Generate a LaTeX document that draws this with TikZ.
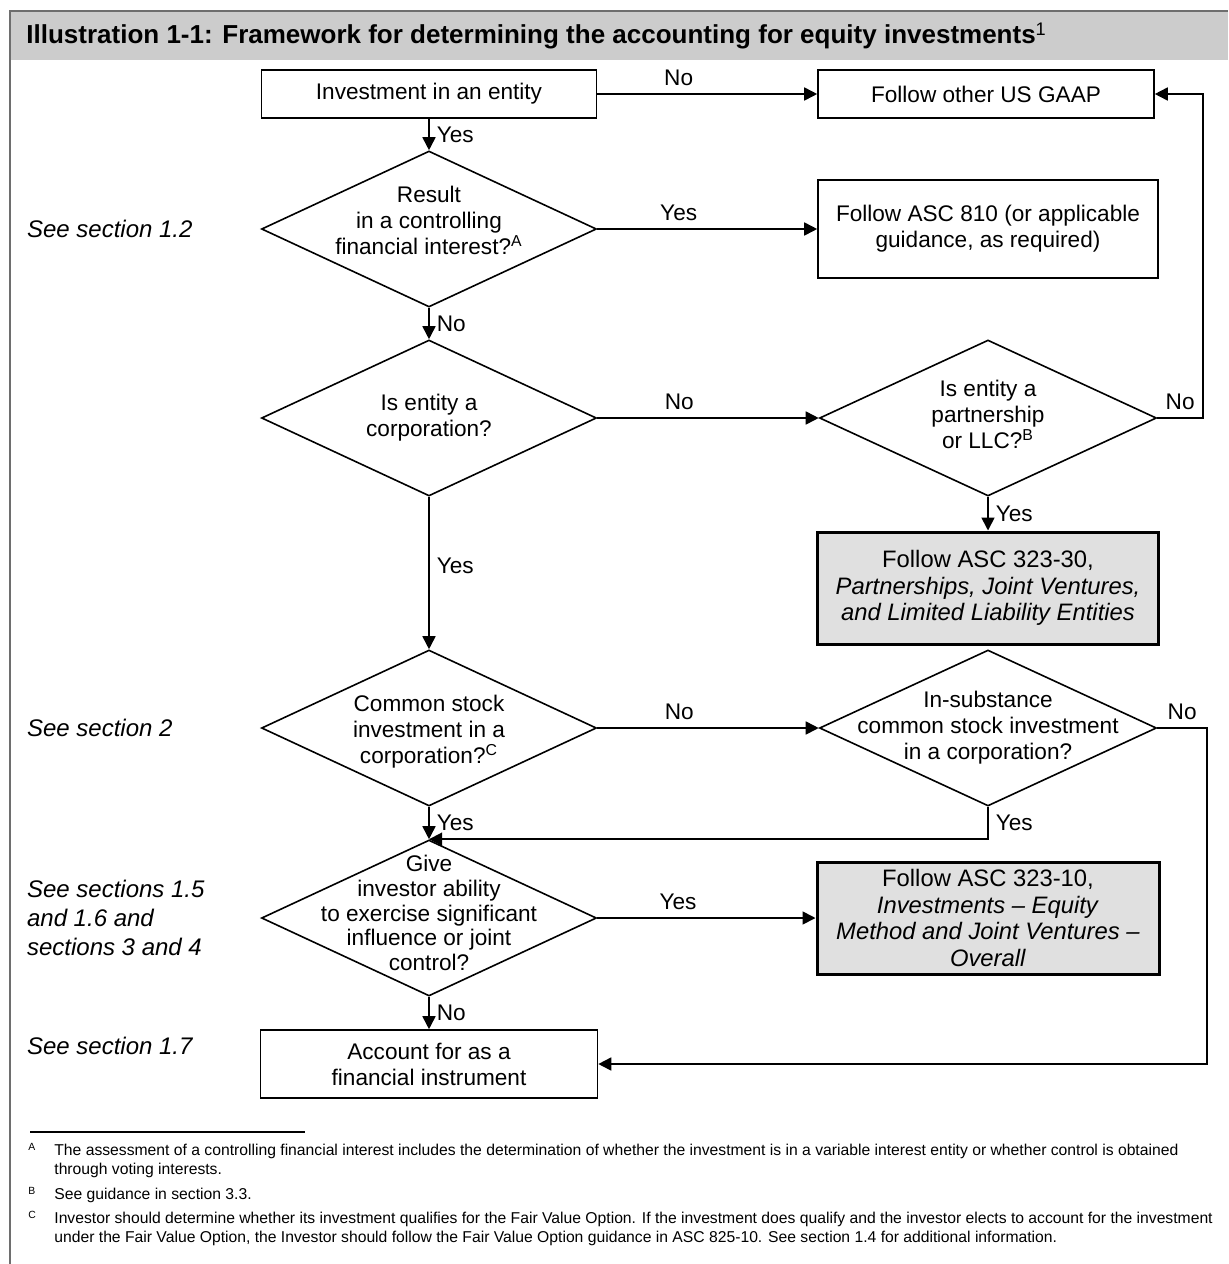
\documentclass[tikz,border=0pt]{standalone}
\usepackage{fontspec}
\setmainfont{Liberation Sans}
\usetikzlibrary{shapes.geometric,arrows.meta}
\definecolor{eyHead}{HTML}{CCCCCC}
\definecolor{eyFrame}{HTML}{6E6E6E}
\definecolor{eyKey}{HTML}{E0E0E0}
\newcommand{\flowfont}{\fontsize{11.3}{13}\selectfont}
\newcommand{\keyfont}{\fontsize{11.9}{13.4}\selectfont}
\newcommand{\notefont}{\fontsize{7.85}{9.4}\selectfont}
\tikzset{
  outcome/.style={draw=black, line width=0.8pt, fill=white, align=center,
                  inner sep=0pt, font=\flowfont},
  keybox/.style={outcome, line width=1.5pt, fill=eyKey, font=\keyfont},
  decision/.style={diamond, draw=black, line width=0.8pt, inner sep=0pt,
                   minimum width=167.5pt, minimum height=78pt},
  dtext/.style={align=center, inner sep=0pt, font=\flowfont},
  flow/.style={-{Triangle[length=6.5pt,width=6.5pt]}, line width=0.85pt},
  lbl/.style={font=\flowfont, inner sep=3.5pt},
  sidenote/.style={anchor=west, align=left, font=\fontsize{12}{14.6}\selectfont\itshape},
  fnmark/.style={anchor=west, font=\fontsize{5.2}{6}\selectfont, inner sep=0pt},
  fntext/.style={anchor=north west, align=left, font=\notefont, inner sep=0pt},
}

\begin{document}
\begin{tikzpicture}[x=0.5pt, y=-0.5pt]
  \useasboundingbox (0,0) rectangle (1228,1264);
  % frame and heading
  \fill[eyHead] (10,11) rectangle (1228,60);
  \draw[eyFrame, line width=1.4pt] (10,1264) -- (10,11) -- (1228,11);
  \node[anchor=west, inner sep=0pt, font=\fontsize{13}{15}\selectfont\bfseries] (title) at (26,36)
    {Illustration 1-1: Framework for determining the accounting for equity investments\textsuperscript{\mdseries 1}};

  % left column
  \node[outcome, minimum width=167.5pt, minimum height=24pt] (invest) at (429,94) {Investment in an entity};
  \node[decision, label={[dtext, yshift=4.5pt]center:{Result\\ in a controlling\\ financial interest?\textsuperscript{A}}}] (ctrl) at (429,229) {};
  \node[decision, label={[dtext]center:{Is entity a\\ corporation?}}] (corp) at (429,418) {};
  \node[decision, label={[dtext, yshift=-2pt]center:{Common stock\\ investment in a\\ corporation?\textsuperscript{C}}}] (common) at (429,728) {};
  \node[decision, label={[dtext, yshift=2.5pt, font=\fontsize{11.3}{12.3}\selectfont]center:{Give\\ investor ability\\ to exercise significant\\ influence or joint\\ control?}}] (signif) at (429,918) {};
  \node[outcome, minimum width=168.5pt, minimum height=34pt] (fininst) at (429,1064) {Account for as a\\ financial instrument};

  % right column
  \node[outcome, minimum width=168pt, minimum height=24pt] (gaap) at (986,94) {Follow other US GAAP};
  \node[outcome, minimum width=170pt, minimum height=49pt] (asc810) at (988,229) {Follow ASC 810 (or applicable\\ guidance, as required)};
  \node[decision, minimum width=168.5pt, label={[dtext, yshift=2pt]center:{Is entity a\\ partnership\\ or LLC?\textsuperscript{B}}}] (pship) at (988,418) {};
  \node[keybox, minimum width=170.5pt, minimum height=56pt] (asc30) at (988,588)
    {Follow ASC 323-30,\\ \textit{Partnerships, Joint Ventures,}\\ \textit{and Limited Liability Entities}};
  \node[decision, minimum width=168.5pt, label={[dtext]center:{In-substance\\ common stock investment\\ in a corporation?}}] (insub) at (988,728) {};
  \node[keybox, minimum width=171pt, minimum height=56pt] (asc10) at (988,918)
    {Follow ASC 323-10,\\ \textit{Investments -- Equity}\\ \textit{Method and Joint Ventures --}\\ \textit{Overall}};

  % side references
  \node[sidenote] (see12) at (20,229) {See section 1.2};
  \node[sidenote] (see2) at (20,728) {See section 2};
  \node[sidenote] (see15) at (20,918) {See sections 1.5\\ and 1.6 and\\ sections 3 and 4};
  \node[sidenote] (see17) at (20,1046) {See section 1.7};

  \coordinate (backA) at (1203,418);
  \coordinate (backB) at (1207,728);

  \draw[flow] (invest) -- node[lbl, above, pos=0.37] {No} (gaap);
  \draw[flow] (invest) -- node[lbl, right] {Yes} (ctrl);
  \draw[flow] (ctrl) -- node[lbl, above, pos=0.37] {Yes} (asc810);
  \draw[flow] (ctrl) -- node[lbl, right] {No} (corp);
  \draw[flow] (corp) -- node[lbl, above, pos=0.37] {No} (pship);
  \draw[flow] (pship.east) -- node[lbl, above] {No} (backA) |- (gaap.east);
  \draw[flow] (pship) -- node[lbl, right] {Yes} (asc30);
  \draw[flow] (corp) -- node[lbl, right, pos=0.45] {Yes} (common);
  \draw[flow] (common) -- node[lbl, above, pos=0.37] {No} (insub);
  \draw[flow] (insub.east) -- node[lbl, above] {No} (backB) |- (fininst.east);
  \draw[flow] (insub.south) -- node[lbl, right] {Yes} (insub.south |- signif.north) -- (signif.north);
  \draw[flow] (common) -- node[lbl, right] {Yes} (signif);
  \draw[flow] (signif) -- node[lbl, above, pos=0.37] {Yes} (asc10);
  \draw[flow] (signif) -- node[lbl, right] {No} (fininst);

  % footnotes
  \draw[line width=0.6pt] (30,1132) -- (305,1132);
  \node[fnmark] (markA) at (28,1147) {A};
  \node[fntext] (noteA) at (54,1144) {The assessment of a controlling financial interest includes the determination of whether the investment is in a variable interest entity or whether control is obtained\\ through voting interests.};
  \node[fnmark] (markB) at (28,1191) {B};
  \node[fntext] (noteB) at (54,1188) {See guidance in section 3.3.};
  \node[fnmark] (markC) at (28,1215) {C};
  \node[fntext] (noteC) at (54,1212) {Investor should determine whether its investment qualifies for the Fair Value Option. If the investment does qualify and the investor elects to account for the investment\\ under the Fair Value Option, the Investor should follow the Fair Value Option guidance in ASC 825-10. See section 1.4 for additional information.};
\end{tikzpicture}
\end{document}
